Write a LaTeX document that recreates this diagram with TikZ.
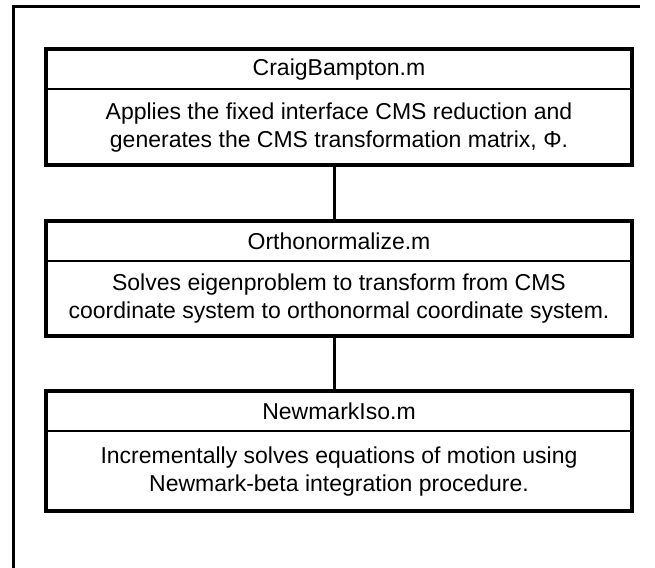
\documentclass[tikz,border=0pt]{standalone}
\usepackage{fontspec}
\setmainfont{Liberation Sans}
\begin{document}
\begin{tikzpicture}[x=1pt,y=-1pt,
  hdr/.style={draw=black, line width=1.2pt, minimum width=584pt, minimum height=39pt, inner sep=0pt, font=\fontsize{23}{27}\selectfont, anchor=north},
  body/.style={draw=black, line width=1.2pt, minimum width=584pt, inner sep=0pt, align=center, font=\fontsize{23}{28}\selectfont, anchor=north},
  frameline/.style={line width=4pt},
  conn/.style={line width=3pt},
  outer/.style={line width=3pt, line cap=rect}]
\useasboundingbox (0,0) rectangle (655,567);
\fill[white] (0,0) rectangle (655,567);
% outer frame (left and top edges only)
\coordinate (fb) at (13.5,567);
\coordinate (ftl) at (13.5,6.5);
\coordinate (ftr) at (638,6.5);
\draw[outer] (fb) -- (ftl) -- (ftr);
% box 1
\node[hdr] (h1) at (339,49) {CraigBampton.m};
\node[body, minimum height=75pt] (b1) at (h1.south) {Applies the fixed interface CMS reduction and\\generates the CMS transformation matrix, Φ.};
\draw[frameline] (h1.north west) rectangle (b1.south east);
% box 2
\node[hdr] (h2) at (339,221) {Orthonormalize.m};
\node[body, minimum height=74pt] (b2) at (h2.south) {Solves eigenproblem to transform from CMS\\coordinate system to orthonormal coordinate system.};
\draw[frameline] (h2.north west) rectangle (b2.south east);
% box 3
\node[hdr] (h3) at (339,391) {NewmarkIso.m};
\node[body, minimum height=79pt] (b3) at (h3.south) {Incrementally solves equations of motion using\\Newmark-beta integration procedure.};
\draw[frameline] (h3.north west) rectangle (b3.south east);
% connectors
\draw[conn] ([xshift=-5pt]b1.south) -- ([xshift=-5pt]h2.north);
\draw[conn] ([xshift=-5pt]b2.south) -- ([xshift=-5pt]h3.north);
\end{tikzpicture}
\end{document}
